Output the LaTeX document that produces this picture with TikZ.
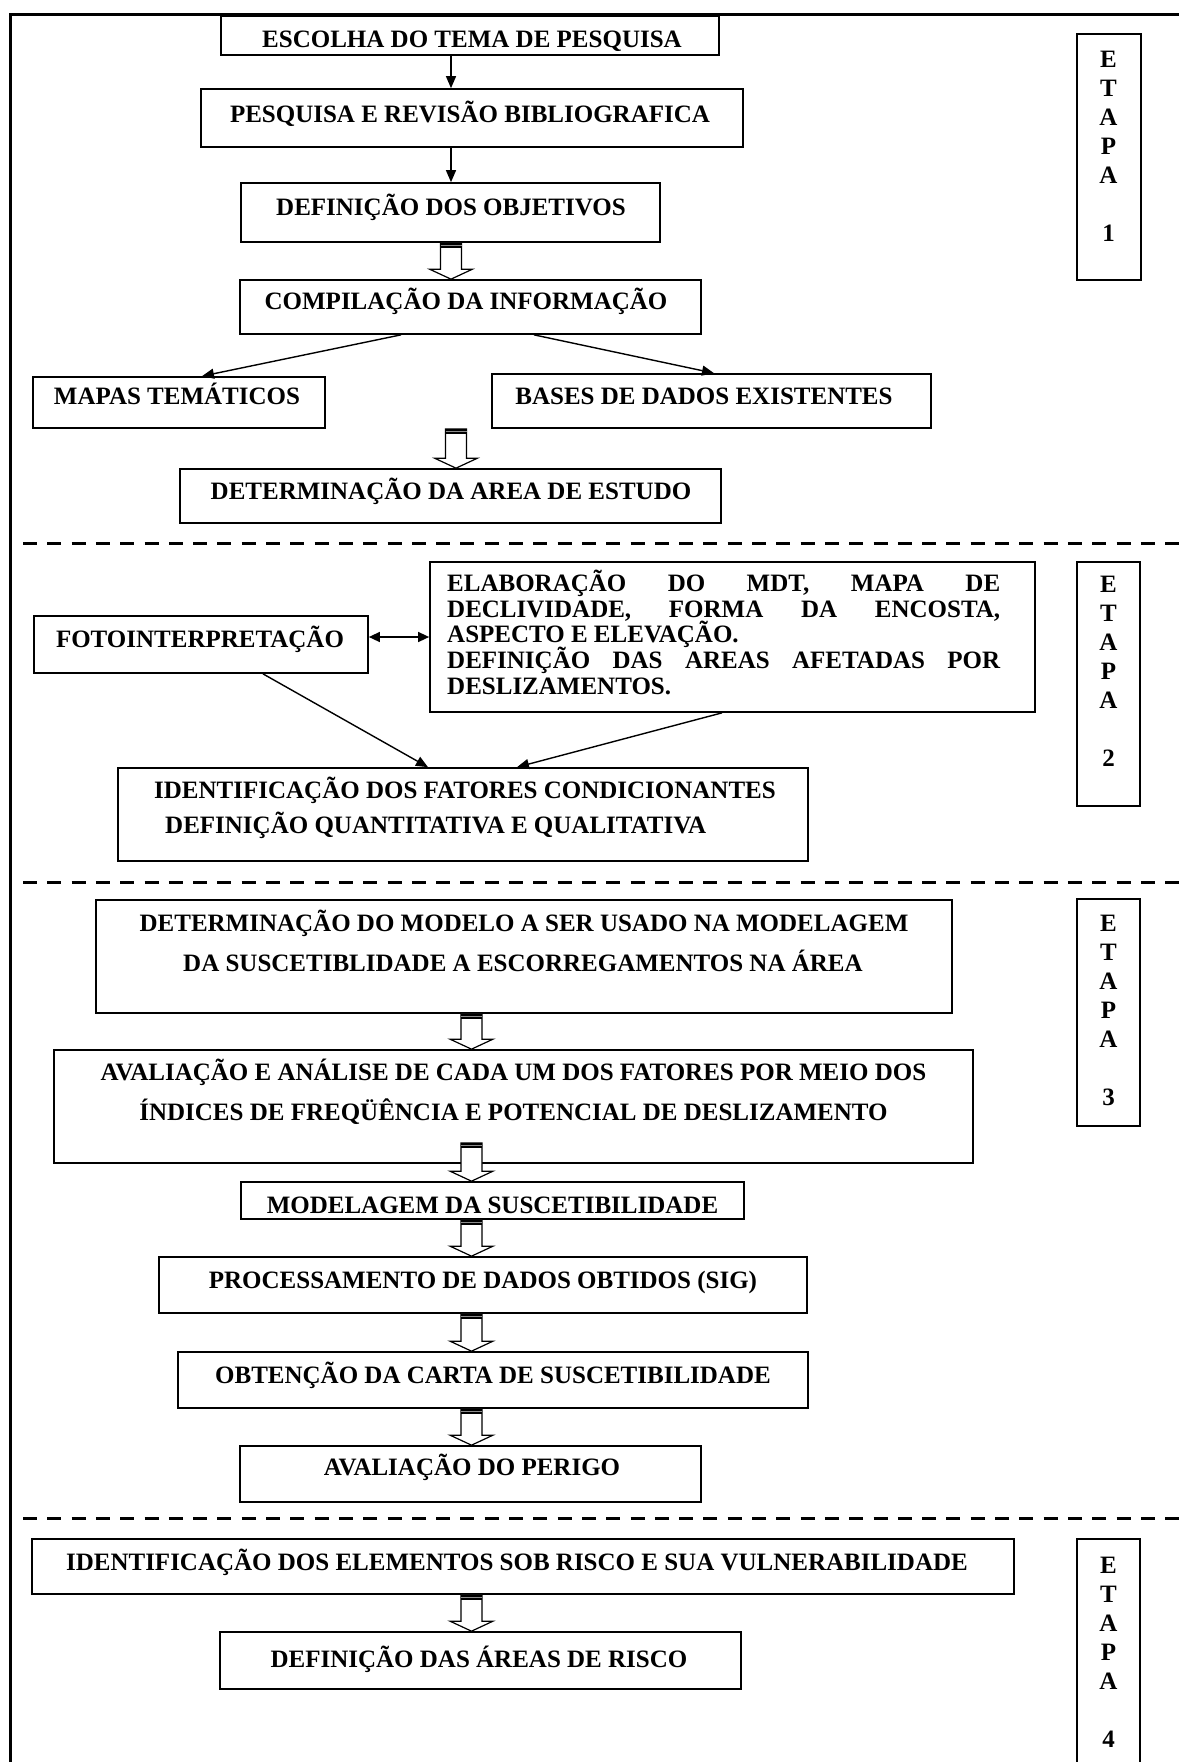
\documentclass[tikz,border=0pt]{standalone}
\usepackage{fontspec}
\setmainfont{Liberation Serif}
\usetikzlibrary{arrows.meta,calc}
\tikzset{
  box/.style={draw, line width=1.7pt, inner sep=0pt, fill=white},
  txt/.style={font=\bfseries\fontsize{25}{27}\selectfont, inner sep=0pt, anchor=base},
  txtl/.style={txt, anchor=base west},
  etxt/.style={font=\bfseries\fontsize{25}{27}\selectfont, inner sep=0pt, anchor=center},
  arr/.style={line width=1.4pt, -{Triangle[length=12pt,width=10pt]}},
  darr/.style={line width=1.4pt, {Triangle[length=11pt,width=10pt]}-{Triangle[length=11pt,width=10pt]}},
  sepline/.style={line width=3pt, dash pattern=on 14pt off 10.3pt},
  framel/.style={line width=3pt},
}
\newcommand\hollowarr[2]{%
  \path let \p1=#1, \p2=#2 in
    [draw, fill=white, line width=1.2pt, line join=miter]
    (\x1-10.5pt,\y1) -- (\x1+10.5pt,\y1) -- (\x1+10.5pt,\y2+10pt) -- (\x1+21.5pt,\y2+10pt)
    -- (\x1,\y2) -- (\x1-21.5pt,\y2+10pt) -- (\x1-10.5pt,\y2+10pt) -- cycle;
  \path let \p1=#1 in
    [fill=black] (\x1-10.5pt,\y1) rectangle (\x1+10.5pt,\y1-5pt);
  \path let \p1=#1 in
    [draw=black!45, line width=0.8pt] (\x1-10.5pt,\y1-2.5pt) -- (\x1+10.5pt,\y1-2.5pt);
}
\begin{document}
\begin{tikzpicture}[x=1pt,y=-1pt]
\useasboundingbox (0,0) rectangle (1179,1762);
% frame and separators
\draw[framel] (10,1762) -- (10,14) -- (1179,14);
\draw[sepline] (23,543) -- (1179,543);
\draw[sepline] (23,882) -- (1179,882);
\draw[sepline] (23,1518) -- (1179,1518);

% ---- ETAPA 1
\node[box, minimum width=498pt, minimum height=39pt] (b1) at (470,35.5) {};
\node[box, minimum width=542pt, minimum height=58pt] (b2) at (472,118) {};
\node[box, minimum width=419pt, minimum height=59pt] (b3) at (450.5,212.5) {};
\node[box, minimum width=461pt, minimum height=54pt] (b4) at (470.5,307) {};
\node[box, minimum width=292pt, minimum height=51pt] (b5) at (179,402.5) {};
\node[box, minimum width=439pt, minimum height=54pt] (b6) at (711.5,401) {};
\node[box, minimum width=541pt, minimum height=54pt] (b7) at (450.5,496) {};
\node[box, minimum width=64pt, minimum height=246pt] (e1) at (1109,157) {};
% ---- ETAPA 2
\node[box, minimum width=334pt, minimum height=57pt] (b8) at (201,644.5) {};
\node[box, minimum width=605pt, minimum height=150pt] (b9) at (732.5,637) {};
\node[box, minimum width=690pt, minimum height=93pt] (b10) at (463,814.5) {};
\node[box, minimum width=63pt, minimum height=244pt] (e2) at (1108.5,684) {};
% ---- ETAPA 3
\node[box, minimum width=856pt, minimum height=113pt] (b11) at (524,956.5) {};
\node[box, minimum width=919pt, minimum height=113pt] (b12) at (513.5,1106.5) {};
\node[box, minimum width=503pt, minimum height=37pt] (b13) at (492.5,1200.5) {};
\node[box, minimum width=648pt, minimum height=56pt] (b14) at (483,1285) {};
\node[box, minimum width=630pt, minimum height=56pt] (b15) at (493,1380) {};
\node[box, minimum width=461pt, minimum height=56pt] (b16) at (470.5,1474) {};
\node[box, minimum width=63pt, minimum height=227pt] (e3) at (1108.5,1012.5) {};
% ---- ETAPA 4
\node[box, minimum width=982pt, minimum height=55pt] (b17) at (523,1566.5) {};
\node[box, minimum width=521pt, minimum height=57pt] (b18) at (480.5,1660.5) {};
\node[box, minimum width=63pt, minimum height=261pt] (e4) at (1108.5,1669.5) {};

% texts
\node[txt] (t1) at (472,47) {ESCOLHA DO TEMA DE PESQUISA};
\node[txt] (t2) at (470,122) {PESQUISA E REVISÃO BIBLIOGRAFICA};
\node[txt] (t3) at (451,215) {DEFINIÇÃO DOS OBJETIVOS};
\node[txt] (t4) at (466,309) {COMPILAÇÃO DA INFORMAÇÃO};
\node[txt] (t5) at (177,404) {MAPAS TEMÁTICOS};
\node[txt] (t6) at (704,404) {BASES DE DADOS EXISTENTES};
\node[txt] (t7) at (451,499) {DETERMINAÇÃO DA AREA DE ESTUDO};
\node[txt] (t8) at (200,647) {FOTOINTERPRETAÇÃO};
\node[txtl] (t9a) at (447,591) {\hbox to 553pt{ELABORAÇÃO\hfill DO\hfill MDT,\hfill MAPA\hfill DE}};
\node[txtl] (t9b) at (447,617) {\hbox to 553pt{DECLIVIDADE,\hfill FORMA\hfill DA\hfill ENCOSTA,}};
\node[txtl] (t9c) at (447,642) {ASPECTO E ELEVAÇÃO.};
\node[txtl] (t9d) at (447,668) {\hbox to 553pt{DEFINIÇÃO\hfill DAS\hfill AREAS\hfill AFETADAS\hfill POR}};
\node[txtl] (t9e) at (447,694) {DESLIZAMENTOS.};
\node[txtl] (t10a) at (154,798) {IDENTIFICAÇÃO DOS FATORES CONDICIONANTES};
\node[txtl] (t10b) at (165,833) {DEFINIÇÃO QUANTITATIVA E QUALITATIVA};
\node[txt] (t11a) at (524,931) {DETERMINAÇÃO DO MODELO A SER USADO NA MODELAGEM};
\node[txt] (t11b) at (523,971) {DA SUSCETIBLIDADE A ESCORREGAMENTOS NA ÁREA};
\node[txt] (t12a) at (513.5,1080) {AVALIAÇÃO E ANÁLISE DE CADA UM DOS FATORES POR MEIO DOS};
\node[txt] (t12b) at (513.5,1120) {ÍNDICES DE FREQÜÊNCIA E POTENCIAL DE DESLIZAMENTO};
\node[txt] (t13) at (492.5,1213) {MODELAGEM DA SUSCETIBILIDADE};
\node[txt] (t14) at (483,1288) {PROCESSAMENTO DE DADOS OBTIDOS (SIG)};
\node[txt] (t15) at (493,1383) {OBTENÇÃO DA CARTA DE SUSCETIBILIDADE};
\node[txt] (t16) at (472,1475) {AVALIAÇÃO DO PERIGO};
\node[txt] (t17) at (517,1570) {IDENTIFICAÇÃO DOS ELEMENTOS SOB RISCO E SUA VULNERABILIDADE};
\node[txt] (t18) at (479,1667) {DEFINIÇÃO DAS ÁREAS DE RISCO};

% ETAPA letters
\foreach \n/\y/\d in {1/59/1, 2/584/2, 3/923/3, 4/1565/4} {
  \foreach \L [count=\i] in {E,T,A,P,A}
    \node[etxt] (et\n l\i) at (1108.5,{\y+29*(\i-1)}) {\L};
  \node[etxt] (et\n n) at (1108.5,{\y+29*6}) {\d};
}

% connector x positions
\coordinate (ax) at (451,0);
\coordinate (l1) at (401,0);
\coordinate (l2) at (202,0);
\coordinate (r1) at (534,0);
\coordinate (r2) at (714,0);
\coordinate (f1) at (263,0);
\coordinate (f2) at (428,0);
\coordinate (g1) at (722,0);
\coordinate (g2) at (517,0);
\coordinate (hx1) at (451,0);
\coordinate (hx2) at (456,0);
\coordinate (hxa) at (471.5,0);
\coordinate (h4top) at (471.5,1143);

% line arrows
\draw[arr] (b1.south -| ax) -- (b2.north -| ax);
\draw[arr] (b2.south -| ax) -- (b3.north -| ax);
\draw[arr] (b4.south -| l1) -- (b5.north -| l2);
\draw[arr] (b4.south -| r1) -- (b6.north -| r2);
\draw[darr] (b9.west -| b8.east) -- (b9.west);
\draw[arr] (b8.south -| f1) -- (b10.north -| f2);
\draw[arr] (b9.south -| g1) -- (b10.north -| g2);

% hollow arrows
\hollowarr{(b3.south -| hx1)}{(b4.north)}
\hollowarr{(b5.south -| hx2)}{(b7.north)}
\hollowarr{(b11.south -| hxa)}{(b12.north)}
\hollowarr{(h4top)}{(b13.north)}
\hollowarr{(b13.south -| hxa)}{(b14.north)}
\hollowarr{(b14.south -| hxa)}{(b15.north)}
\hollowarr{(b15.south -| hxa)}{(b16.north)}
\hollowarr{(b17.south -| hxa)}{(b18.north)}
\end{tikzpicture}
\end{document}
